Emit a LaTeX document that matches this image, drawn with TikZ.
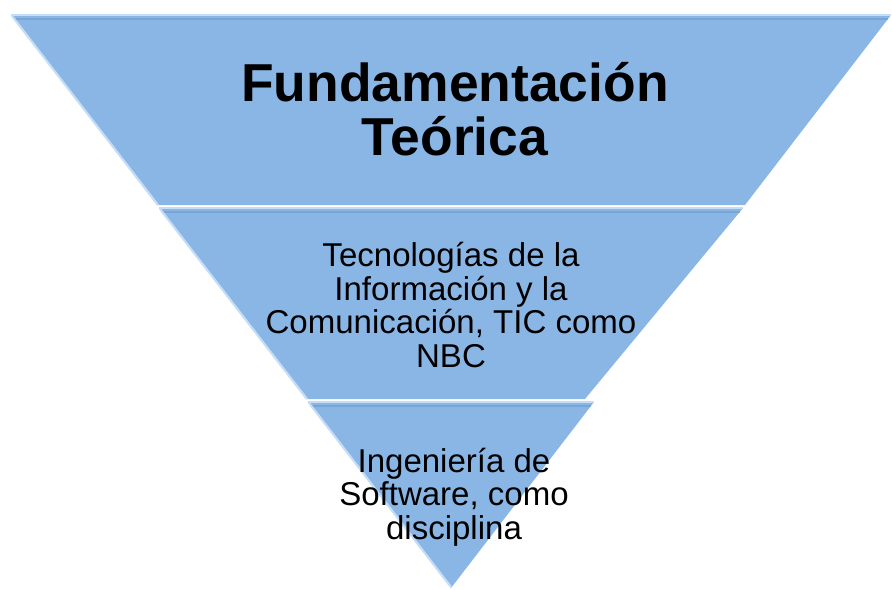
\documentclass[tikz,border=0pt]{standalone}
\usepackage{fontspec}
\setmainfont{Liberation Sans}
\usepackage{tikz}
\usepackage{xcolor}
\definecolor{bandfill}{HTML}{8AB6E6}
\definecolor{bandlight}{HTML}{C4DEF9}
\definecolor{banddark}{HTML}{6F9BCB}

\begin{document}
\begin{tikzpicture}[x=0.02cm,y=-0.02cm,
    band/.style={fill=bandfill,draw=none},
    rim/.style={bandlight,line width=1.2pt},
    shade/.style={banddark,line width=1.5pt,opacity=0.6},
    bigtext/.style={align=center,font=\fontsize{30.4}{31}\selectfont\bfseries},
    smalltext/.style={align=center,font=\fontsize{18.8}{19.2}\selectfont}]
        \useasboundingbox (0,0) rectangle (892,589);
        % top band
        \fill[band] (11,15) -- (891,15) -- (745,205) -- (157,205) -- cycle;
        \draw[shade] (14,19) -- (888,19);
        \draw[rim] (11,15) -- (891,15);
        \draw[rim] (12,16) -- (158,205);
        % middle band
        \fill[band] (159,208) -- (743,208) -- (585,399) -- (306,399) -- cycle;
        \draw[shade] (162,212) -- (740,212);
        \draw[rim] (159,208) -- (743,208);
        \draw[rim] (160,209) -- (307,399);
        % bottom band
        \fill[band] (308,402) -- (594,402) -- (451,588) -- cycle;
        \draw[shade] (311,406) -- (591,406);
        \draw[rim] (308,402) -- (594,402);
        \draw[rim] (309,403) -- (451,587);
        % labels
        \node[bigtext] (teoria) at (455,109) {Fundamentación\\Teórica};
        \node[smalltext] (tic) at (451,305) {Tecnologías de la\\Información y la\\Comunicación, TIC como\\NBC};
        \node[smalltext] (ingsw) at (454,497) {Ingeniería de\\Software, como\\disciplina};
    \end{tikzpicture}
\end{document}
